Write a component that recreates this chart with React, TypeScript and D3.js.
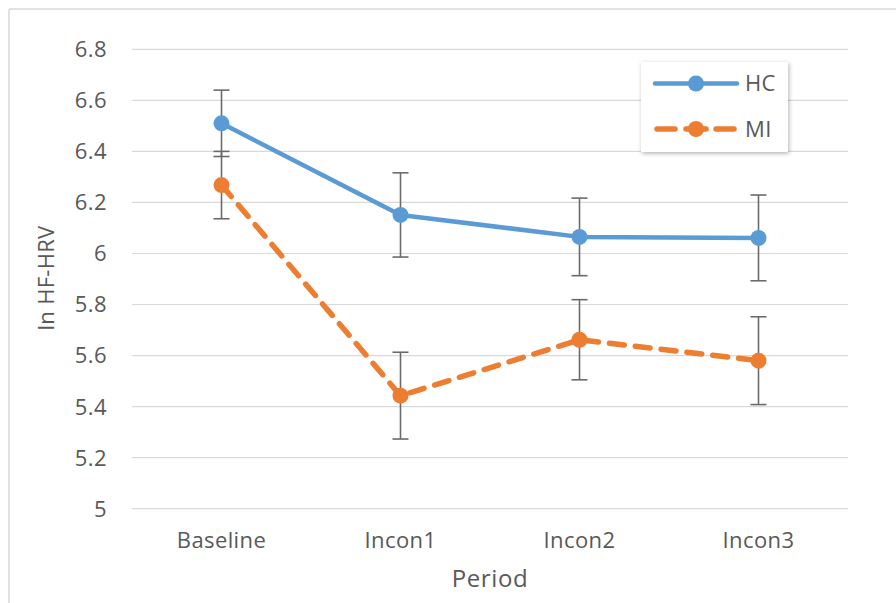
import React from "react";
import * as d3 from "d3";

const categories = ["Baseline", "Incon1", "Incon2", "Incon3"];
const hcValues = [6.51, 6.151, 6.065, 6.061];
const hcErrors = [0.13, 0.165, 0.152, 0.168];
const miValues = [6.268, 5.443, 5.662, 5.58];
const miErrors = [0.132, 0.17, 0.157, 0.172];
const yTicks = [5, 5.2, 5.4, 5.6, 5.8, 6, 6.2, 6.4, 6.6, 6.8];
const seriesNames = ["HC", "MI"];

const W = 896;
const H = 603;
const FONT = "'Open Sans', 'Segoe UI', sans-serif";
const TEXT = "#595959";
const FS = 22;

export default function App() {
  const x = d3.scaleBand().domain(categories).range([132, 848]);
  const y = d3.scaleLinear().domain([5, 6.8]).range([508.7, 49.3]);
  const cx = (c: string) => (x(c) as number) + x.bandwidth() / 2;
  const line = d3
    .line<number>()
    .x((_, i) => cx(categories[i]))
    .y((d) => y(d));

  const series = [
    { name: seriesNames[0], vals: hcValues, errs: hcErrors, color: "#5B9BD5", width: 4.5, dash: undefined as string | undefined },
    { name: seriesNames[1], vals: miValues, errs: miErrors, color: "#ED7D31", width: 5.5, dash: "15 11" },
  ];

  return (
    <svg width={W} height={H} style={{ display: "block", position: "absolute", left: 0, top: 0 }}>
      <defs>
        <filter id="shadow" x="-20%" y="-20%" width="140%" height="140%">
          <feDropShadow dx="1" dy="1.5" stdDeviation="2" floodColor="#000" floodOpacity="0.3" />
        </filter>
      </defs>
      <rect x={0} y={0} width={W} height={H} fill="#fff" />
      <line x1={9} y1={9} x2={W} y2={9} stroke="#d9d9d9" strokeWidth={1.5} />
      <line x1={9} y1={9} x2={9} y2={H} stroke="#d9d9d9" strokeWidth={1.5} />
      {yTicks.map((t) => (
        <g key={t}>
          <line x1={132} x2={848} y1={y(t)} y2={y(t)} stroke="#d9d9d9" strokeWidth={1.2} />
          <text x={107} y={y(t)} dy="0.36em" textAnchor="end" fontFamily={FONT} fontSize={FS} letterSpacing={0.4} fill={TEXT}>
            {String(t)}
          </text>
        </g>
      ))}
      {categories.map((c) => (
        <text key={c} x={cx(c)} y={547.5} textAnchor="middle" fontFamily={FONT} fontSize={FS} letterSpacing={0.4} fill={TEXT}>
          {c}
        </text>
      ))}
      <text x={490} y={587} textAnchor="middle" fontFamily={FONT} fontSize={24} letterSpacing={0.6} fill={TEXT}>
        Period
      </text>
      <text
        transform={`translate(54,278) rotate(-90)`}
        textAnchor="middle"
        fontFamily={FONT}
        fontSize={22}
        letterSpacing={0.3}
        fill={TEXT}
      >
        ln HF-HRV
      </text>
      {series.map((s) =>
        s.vals.map((v, i) => {
          const px = cx(categories[i]);
          const top = y(v + s.errs[i]);
          const bot = y(v - s.errs[i]);
          return (
            <g key={s.name + i} stroke="#6b6b6b" strokeWidth={1.6}>
              <line x1={px} x2={px} y1={top} y2={bot} />
              <line x1={px - 8} x2={px + 8} y1={top} y2={top} />
              <line x1={px - 8} x2={px + 8} y1={bot} y2={bot} />
            </g>
          );
        })
      )}
      {series.map((s) => (
        <g key={s.name}>
          <path
            d={line(s.vals) || ""}
            fill="none"
            stroke={s.color}
            strokeWidth={s.width}
            strokeDasharray={s.dash}
            strokeLinecap={s.dash ? "round" : "butt"}
            strokeLinejoin="round"
          />
          {s.vals.map((v, i) => (
            <circle key={i} cx={cx(categories[i])} cy={y(v)} r={8} fill={s.color} />
          ))}
        </g>
      ))}
      <g>
        <rect x={641} y={62} width={147} height={90} fill="#fff" filter="url(#shadow)" />
        {series.map((s, i) => {
          const ly = 83.5 + i * 45.5;
          return (
            <g key={s.name}>
              {s.dash ? (
                <g stroke={s.color} strokeWidth={s.width} strokeLinecap="round">
                  <line x1={657} x2={675} y1={ly} y2={ly} />
                  <line x1={686} x2={706} y1={ly} y2={ly} />
                  <line x1={716} x2={734} y1={ly} y2={ly} />
                </g>
              ) : (
                <line x1={655} x2={737} y1={ly} y2={ly} stroke={s.color} strokeWidth={s.width} strokeLinecap="round" />
              )}
              <circle cx={696} cy={ly} r={8} fill={s.color} />
              <text x={745} y={ly} dy="0.36em" fontFamily={FONT} fontSize={FS} letterSpacing={0.4} fill={TEXT}>
                {s.name}
              </text>
            </g>
          );
        })}
      </g>
    </svg>
  );
}
